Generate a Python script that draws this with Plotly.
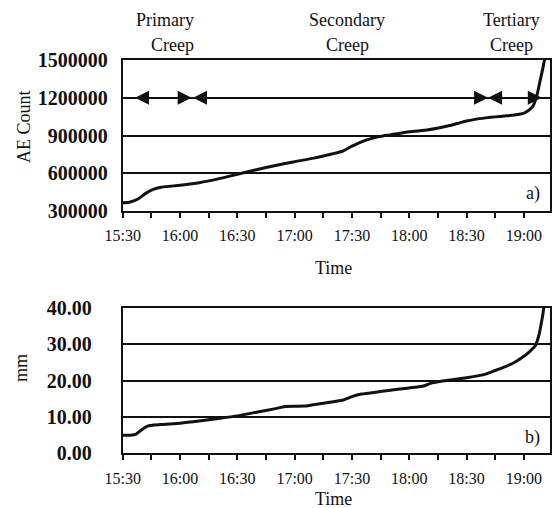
import plotly.graph_objects as go

DAY = "2000-01-01 "

# Acoustic emission count over the test
ae_time = ["15:30", "15:34", "15:38", "15:42", "15:46", "15:50", "15:55", "16:00",
           "16:10", "16:20", "16:30", "16:40", "16:50", "17:00", "17:10", "17:20",
           "17:25", "17:30", "17:35", "17:40", "17:45", "17:50", "18:00", "18:10",
           "18:20", "18:25", "18:30", "18:35", "18:40", "18:45", "18:50", "18:55",
           "19:00", "19:02", "19:04", "19:05", "19:06", "19:07", "19:08", "19:09",
           "19:10", "19:11"]
ae_count = [365000, 372000, 395000, 440000, 472000, 488000, 497000, 505000,
            525000, 555000, 592000, 628000, 662000, 692000, 720000, 755000,
            775000, 815000, 850000, 875000, 893000, 905000, 930000, 945000,
            975000, 995000, 1015000, 1030000, 1040000, 1048000, 1055000, 1063000,
            1078000, 1095000, 1120000, 1140000, 1180000, 1230000, 1300000, 1370000,
            1440000, 1520000]

# Displacement (mm) over the test
mm_time = ["15:30", "15:34", "15:37", "15:40", "15:43", "15:50", "16:00", "16:10",
           "16:20", "16:30", "16:40", "16:50", "16:55", "17:05", "17:15", "17:25",
           "17:30", "17:35", "17:45", "17:55", "18:05", "18:08", "18:12", "18:20",
           "18:30", "18:40", "18:45", "18:50", "18:55", "19:00", "19:03", "19:06",
           "19:07", "19:08", "19:09", "19:10", "19:10:30"]
mm_value = [5.0, 5.0, 5.3, 6.5, 7.5, 7.9, 8.3, 8.9,
            9.6, 10.3, 11.3, 12.3, 12.9, 13.0, 13.8, 14.6,
            15.6, 16.3, 17.0, 17.7, 18.3, 18.6, 19.4, 20.1,
            20.8, 21.8, 22.8, 23.8, 25.0, 26.7, 28.0, 29.6,
            31.0, 32.8, 35.5, 38.5, 40.5]

# Creep phase boundaries drawn as arrow heads on the 1 200 000 line
phase_time = ["15:36:26", "16:06:06", "16:06:48", "18:41:15", "18:41:15", "19:09:23"]
phase_symbol = ["arrow-left", "arrow-right", "arrow-left", "arrow-right", "arrow-left", "arrow-right"]
phase_level = 1200000

# Phase names: (first line, second line, centre of first line, centre of second line)
phase_labels = [("Primary", "Creep", "15:52", "15:56"),
                ("Secondary", "Creep", "17:27:30", "17:27:30"),
                ("Tertiary", "Creep", "18:53:20", "18:53:20")]

x_ticks = ["15:30", "16:00", "16:30", "17:00", "17:30", "18:00", "18:30", "19:00"]
ae_ticks = [300000, 600000, 900000, 1200000, 1500000]
mm_ticks = [0, 10, 20, 30, 40]

X_START = DAY + "15:30"
X_END = DAY + "19:13:40"

W, H = 554, 508
SERIF = "Times New Roman, Liberation Serif, DejaVu Serif, serif"
INK = "#111111"


def ts(values):
    return [DAY + v for v in values]


def py(pixel_y):
    return 1 - pixel_y / H


fig = go.Figure()

fig.add_trace(go.Scatter(x=ts(ae_time), y=ae_count, mode="lines",
                         line=dict(color=INK, width=3, shape="spline", smoothing=0.6),
                         xaxis="x", yaxis="y", showlegend=False))
fig.add_trace(go.Scatter(x=ts(phase_time), y=[phase_level] * len(phase_time), mode="markers",
                         marker=dict(symbol=phase_symbol, size=14, color=INK, line=dict(width=0)),
                         xaxis="x", yaxis="y", showlegend=False, cliponaxis=False))
fig.add_trace(go.Scatter(x=ts(mm_time), y=mm_value, mode="lines",
                         line=dict(color=INK, width=3, shape="spline", smoothing=0.6),
                         xaxis="x2", yaxis="y2", showlegend=False))

xaxis_common = dict(
    type="date", range=[X_START, X_END], automargin=False,
    tickvals=ts(x_ticks), ticktext=x_ticks,
    ticks="outside", ticklen=5, tickwidth=1.5, tickcolor=INK, ticklabelstandoff=4,
    minor=dict(dtick=15 * 60 * 1000, ticks="outside", ticklen=5, tickwidth=1.5, tickcolor=INK),
    showline=True, linecolor=INK, linewidth=2, mirror=True,
    showgrid=False, zeroline=False,
    tickfont=dict(family=SERIF, size=16, color=INK),
)
yaxis_common = dict(
    automargin=False,
    showline=True, linecolor=INK, linewidth=2, mirror=True,
    showgrid=True, gridcolor=INK, gridwidth=1.5, zeroline=False,
    ticks="", tickfont=dict(family=SERIF, size=20, color=INK, weight="bold"),
)

xdom = [122.7 / W, 550 / W]

fig.update_layout(
    width=W, height=H,
    margin=dict(l=0, r=0, t=0, b=0),
    paper_bgcolor="white", plot_bgcolor="white",
    xaxis=dict(xaxis_common, domain=xdom, anchor="y"),
    xaxis2=dict(xaxis_common, domain=xdom, anchor="y2"),
    yaxis=dict(yaxis_common, domain=[py(211), py(60)], anchor="x", range=[300000, 1500000],
               tickvals=ae_ticks, tickformat="d", ticklabelstandoff=9),
    yaxis2=dict(yaxis_common, domain=[py(453.3), py(308)], anchor="x2", range=[0, 40],
                tickvals=mm_ticks, tickformat=".2f", ticklabelstandoff=25),
)

title_font = dict(family=SERIF, size=18, color=INK)


def label(x, y, text, xref="paper", angle=0, xanchor="center"):
    fig.add_annotation(x=x, y=y, xref=xref, yref="paper", text=text, textangle=angle,
                       showarrow=False, xanchor=xanchor, yanchor="middle", font=title_font)


# Axis titles
label(23.5 / W, py(126.5), "AE Count", angle=-90)
label(21 / W, py(368), "mm", angle=-90)
for ty in (268, 499):
    label((122.7 + 550) / 2 / W - 0.005, py(ty), "Time")

# Creep phase names above the top panel
for first, second, t1, t2 in phase_labels:
    label(DAY + t1, py(20), first, xref="x")
    label(DAY + t2, py(45), second, xref="x")

# Panel letters
label(542 / W, py(193), "a)", xanchor="right")
label(542 / W, py(437), "b)", xanchor="right")

fig.write_html("out.html")
